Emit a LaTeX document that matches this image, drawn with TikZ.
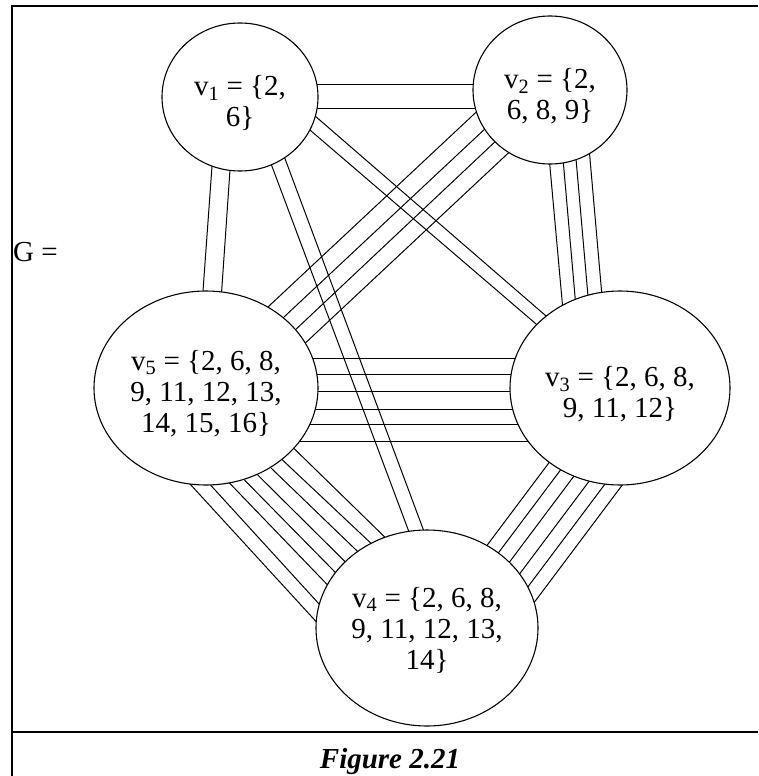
\documentclass[tikz,border=0pt]{standalone}
\usepackage{fontspec}
\setmainfont{Liberation Serif}
\usetikzlibrary{shapes.geometric,backgrounds}

\begin{document}
\begin{tikzpicture}[
    x=1pt, y=-1pt,
    vertex/.style={ellipse, draw, fill=white, line width=1.1pt,
                   inner sep=0pt, align=center,
                   font=\fontsize{29}{31}\selectfont,
                   execute at begin node={\rule{0pt}{#1}}},
    vertex/.default=63pt,
    link/.style={line width=1pt},
    frame/.style={line width=2pt}
]
\useasboundingbox (0,0) rectangle (758,776);

% table frame
\draw[frame] (12,776) -- (12,6) -- (758,6);
\draw[frame] (12,732) -- (758,732);

\node[anchor=base west, inner sep=0pt, font=\fontsize{29}{31}\selectfont] (glabel) at (13,261) {G =};
\node[anchor=base, inner sep=0pt, font=\fontsize{29}{31}\selectfont\bfseries\itshape] (caption) at (390,768) {Figure 2.21};

\node[vertex, minimum width=156pt, minimum height=148pt] (v1) at (240,97) {v\textsubscript{1} = \{2,\\6\}};
\node[vertex, minimum width=154pt, minimum height=148pt] (v2) at (550,90) {v\textsubscript{2} = \{2,\\6, 8, 9\}};
\node[vertex=93pt, minimum width=224pt, minimum height=194pt] (v5) at (206,388) {v\textsubscript{5} = \{2, 6, 8,\\9, 11, 12, 13,\\14, 15, 16\}};
\node[vertex, minimum width=220pt, minimum height=194pt] (v3) at (620,388) {v\textsubscript{3} = \{2, 6, 8,\\9, 11, 12\}};
\node[vertex=86pt, minimum width=222pt, minimum height=196pt] (v4) at (427,628) {v\textsubscript{4} = \{2, 6, 8,\\9, 11, 12, 13,\\14\}};

% edges, one line per common element
\begin{scope}[on background layer]
\foreach \a/\b in {-13/-6, 11/18}
  \draw[link] ([shift={(0,\a)}]v1.center) -- ([shift={(0,\b)}]v2.center);
\foreach \a/\b in {-23/-10, -5/9}
  \draw[link] ([shift={(\a,0)}]v1.center) -- ([shift={(\b,0)}]v5.center);
\foreach \a/\b in {6/18, 22/33}
  \draw[link] ([shift={(\a,0)}]v1.center) -- ([shift={(\b,0)}]v4.center);
\foreach \a/\b in {-46/-8, -27/8}
  \draw[link] ([shift={(0,\a)}]v1.center) -- ([shift={(0,\b)}]v3.center);
\foreach \a/\b in {-47/-23, -22/2, 0/26, 24/48}
  \draw[link] ([shift={(0,\a)}]v2.center) -- ([shift={(0,\b)}]v5.center);
\foreach \a/\b in {-7/-50, 7/-37, 20/-24, 34/-10}
  \draw[link] ([shift={(\a,0)}]v2.center) -- ([shift={(\b,0)}]v3.center);
\foreach \a in {-30, -14, 3, 21, 36, 53}
  \draw[link] ([shift={(0,\a)}]v5.center) -- ([shift={(0,\a)}]v3.center);
\foreach \a/\b in {-104/-105, -84/-86, -68/-58, -52/-37, -36/-15, -18/10, 0/34, 26/51}
  \draw[link] ([shift={(\a,0)}]v5.center) -- ([shift={(\b,0)}]v4.center);
\foreach \a/\b in {-15/-2, 2/15, 20/33, 39/52, 57/70, 75/88}
  \draw[link] ([shift={(\a,0)}]v3.center) -- ([shift={(\b,0)}]v4.center);
\end{scope}
\end{tikzpicture}
\end{document}
